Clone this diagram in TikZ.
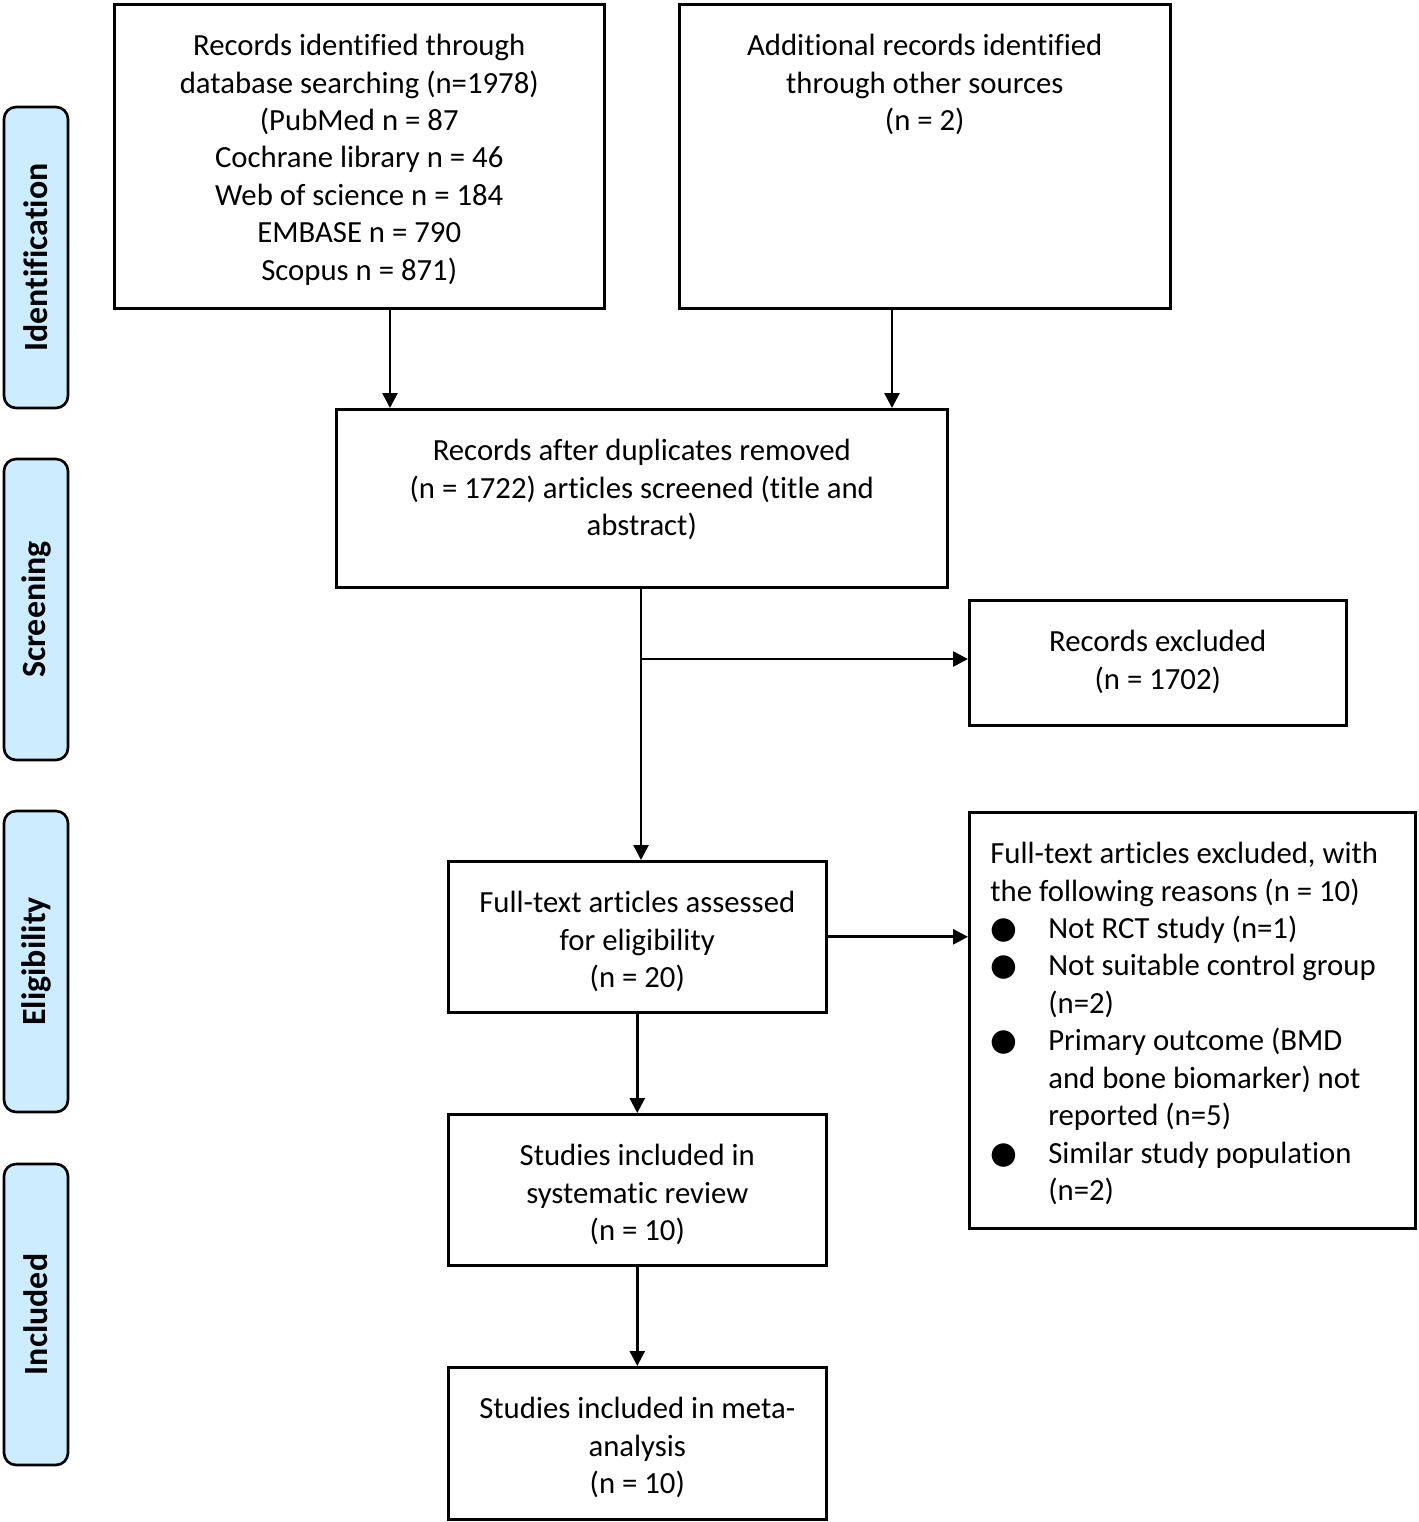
\documentclass[tikz,border=0pt]{standalone}
\usepackage{fontspec}
\setmainfont[Ligatures=NoCommon,Contextuals=NoAlternate]{Carlito}
\newfontfamily\symfont{DejaVu Sans}
\usetikzlibrary{arrows.meta,positioning}

\definecolor{tabblue}{RGB}{204,236,255}

\tikzset{
  box/.style 2 args={draw, line width=1.5pt, anchor=north west, inner sep=0pt,
    minimum width=#1, minimum height=#2},
  txt/.style={align=center, inner sep=0pt},
  tab/.style={draw, line width=1.5pt, fill=tabblue, rounded corners=0.24cm,
    rotate=90, inner sep=0pt, minimum width=6.02cm, minimum height=1.28cm,
    font=\fontsize{19.3}{23}\selectfont\bfseries},
  arr/.style={line width=1.5pt, -{Triangle[length=0.3cm,width=0.3cm]}},
}
\newcommand{\itm}{\makebox[1.16cm][l]{{\symfont ●}}}
\newcommand{\ind}{\hspace*{1.16cm}}

\begin{document}
\begin{tikzpicture}[x=0.02cm, y=0.02cm, font=\fontsize{17.5}{21.3}\selectfont]
    \useasboundingbox (0,0) rectangle (1418,-1522);

    % phase tabs
    \node[tab] (ident) at (36,-257.5) {Identification};
    \node[tab] (screen) at (36,-609.5) {Screening};
    \node[tab] (elig) at (36,-961.5) {Eligibility};
    \node[tab] (incl) at (36,-1314.5) {Included};

    % boxes
    \node[box={9.8cm}{6.08cm}] (recdb) at (113,-3) {};
    \node[box={9.82cm}{6.08cm}] (recother) at (678,-3) {};
    \node[box={12.22cm}{3.56cm}] (dedup) at (335,-408) {};
    \node[box={7.54cm}{2.5cm}] (excl1) at (968,-599) {};
    \node[box={7.56cm}{3.02cm}] (fulltext) at (447,-860) {};
    \node[box={8.92cm}{8.32cm}] (excl2) at (968,-811) {};
    \node[box={7.56cm}{3.02cm}] (sysrev) at (447,-1113) {};
    \node[box={7.56cm}{3.04cm}] (meta) at (447,-1366) {};

    % texts
    \node[txt, below=0.62cm of recdb.north] (recdb-t) {Records identified through\\
      database searching (n=1978)\\(PubMed n = 87\\Cochrane library n = 46\\
      Web of science n = 184\\EMBASE n = 790\\Scopus n = 871)};
    \node[txt, below=0.62cm of recother.north] (recother-t) {Additional records identified\\
      through other sources\\(n = 2)};
    \node[txt, below=0.62cm of dedup.north] (dedup-t) {Records after duplicates removed\\
      (n = 1722) articles screened (title and\\abstract)};
    \node[txt, below=0.62cm of excl1.north] (excl1-t) {Records excluded\\(n = 1702)};
    \node[txt, below=0.62cm of fulltext.north] (fulltext-t) {Full-text articles assessed\\
      for eligibility\\(n = 20)};
    \node[txt, below=0.62cm of sysrev.north] (sysrev-t) {Studies included in\\
      systematic review\\(n = 10)};
    \node[txt, below=0.62cm of meta.north] (meta-t) {Studies included in meta-\\
      analysis\\(n = 10)};
    \node[txt, align=left, below right=0.62cm and 0.44cm of excl2.north west] (excl2-t)
      {Full-text articles excluded, with\\the following reasons (n = 10)\\
      \itm Not RCT study (n=1)\\\itm Not suitable control group\\\ind(n=2)\\
      \itm Primary outcome (BMD\\\ind and bone biomarker) not\\\ind reported (n=5)\\
      \itm Similar study population\\\ind(n=2)};

    % arrows
    \coordinate (branch) at (641,-659);
    \draw[arr] (recdb.south -| 390,0) -- (dedup.north -| 390,0);
    \draw[arr] (recother.south -| 892,0) -- (dedup.north -| 892,0);
    \draw[arr] (dedup.south -| branch) -- (fulltext.north -| branch);
    \draw[arr] (branch) -- (excl1.west |- branch);
    \draw[arr] (fulltext.east) -- (fulltext.east -| excl2.west);
    \draw[arr] (fulltext) -- (sysrev);
    \draw[arr] (sysrev) -- (meta);
\end{tikzpicture}
\end{document}
